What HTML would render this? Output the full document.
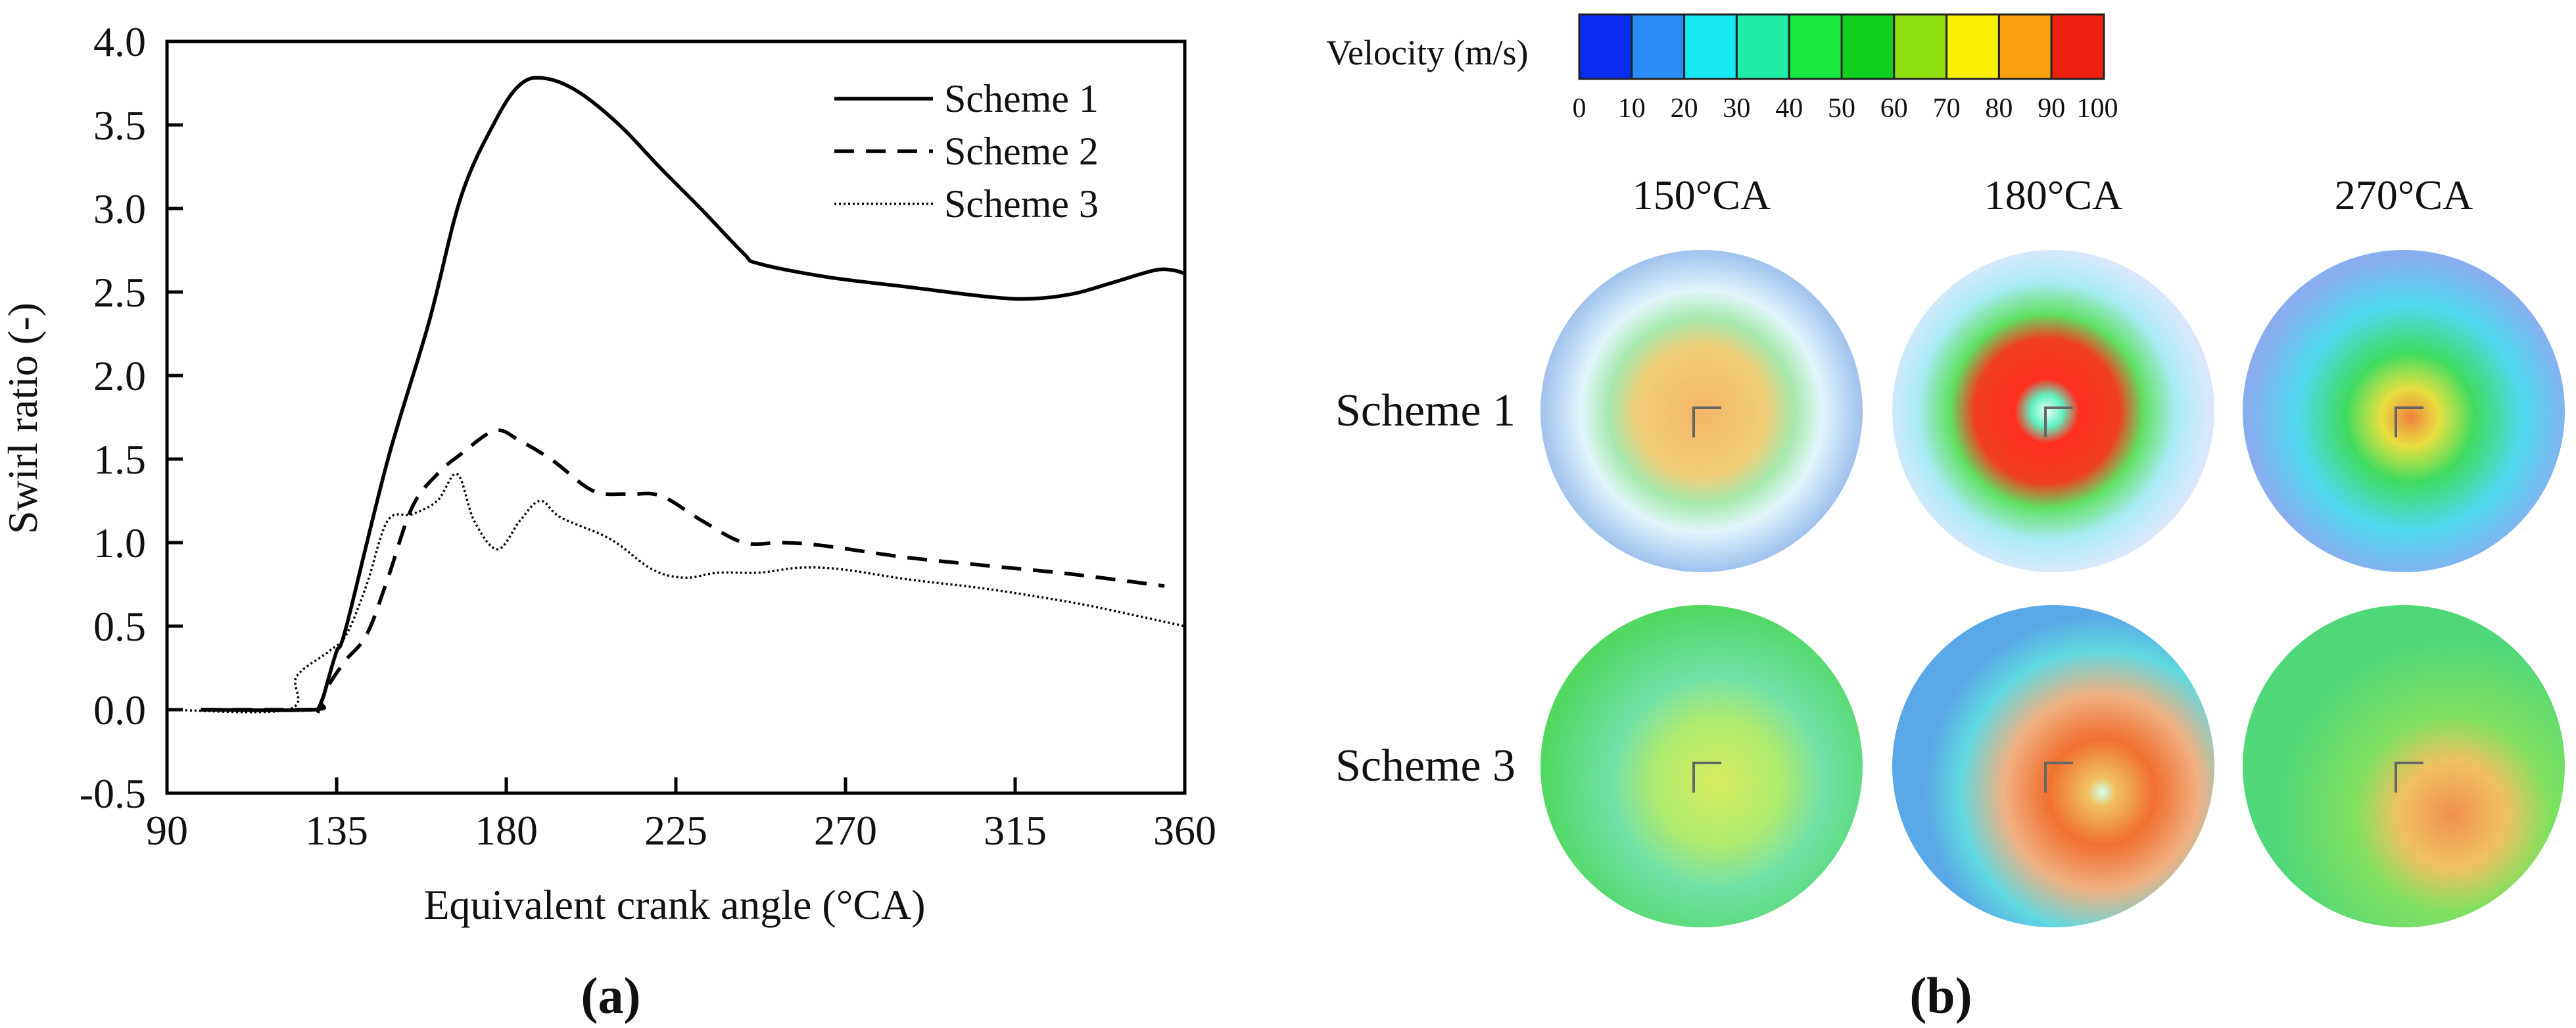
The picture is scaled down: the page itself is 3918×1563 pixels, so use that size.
<!DOCTYPE html>
<html><head><meta charset="utf-8"><style>
html,body{margin:0;padding:0;background:#fff;}
svg{display:block;}
text{font-family:"Liberation Serif",serif;fill:#111;}
</style></head><body>
<svg id="fig" width="3918" height="1563" viewBox="0 0 3918 1563" xmlns="http://www.w3.org/2000/svg">
<defs>
<radialGradient id="g1" cx="50%" cy="50%" r="50%"><stop offset="0" stop-color="#f4b468"/><stop offset="0.4" stop-color="#f2cf78"/><stop offset="0.58" stop-color="#a6eab0"/><stop offset="0.75" stop-color="#e2f4fa"/><stop offset="1" stop-color="#9fc2ee"/></radialGradient>
<radialGradient id="g2" cx="48%" cy="50%" r="50%"><stop offset="0" stop-color="#e8fff8"/><stop offset="0.1" stop-color="#5ff0c0"/><stop offset="0.2" stop-color="#ff3020"/><stop offset="0.45" stop-color="#f04020"/><stop offset="0.6" stop-color="#60e060"/><stop offset="0.8" stop-color="#a8ecf4"/><stop offset="1" stop-color="#d8e8fa"/></radialGradient>
<radialGradient id="g3" cx="52%" cy="52%" r="50%"><stop offset="0" stop-color="#f08040"/><stop offset="0.18" stop-color="#e8e040"/><stop offset="0.4" stop-color="#40dc60"/><stop offset="0.7" stop-color="#50d8f0"/><stop offset="1" stop-color="#88aef0"/></radialGradient>
<radialGradient id="g4" cx="55%" cy="55%" r="55%"><stop offset="0" stop-color="#d8ec60"/><stop offset="0.35" stop-color="#b0ec70"/><stop offset="0.6" stop-color="#70e0a8"/><stop offset="1" stop-color="#50d860"/></radialGradient>
<radialGradient id="g5" cx="65%" cy="58%" r="55%"><stop offset="0" stop-color="#d0fff0"/><stop offset="0.08" stop-color="#f0c060"/><stop offset="0.3" stop-color="#f07030"/><stop offset="0.55" stop-color="#f0b080"/><stop offset="0.8" stop-color="#60d8e0"/><stop offset="1" stop-color="#5aa8e8"/></radialGradient>
<radialGradient id="g6" cx="65%" cy="65%" r="55%"><stop offset="0" stop-color="#f09050"/><stop offset="0.3" stop-color="#f0c060"/><stop offset="0.55" stop-color="#80e060"/><stop offset="1" stop-color="#50d878"/></radialGradient>
</defs>
<g id="chart"></g>
<g id="right"></g>
</svg>
<script>
const NS="http://www.w3.org/2000/svg";
const xTicks=[90,135,180,225,270,315,360];
const yTicks=[-0.5,0.0,0.5,1.0,1.5,2.0,2.5,3.0,3.5,4.0];
const s1x=[99,128.8,131,133,135,137.6,148.5,159.5,168,177,183.6,190,199,210,221,232,243,247,265,286.6,308.5,319.5,330.5,341.4,352,357,360];
const s1y=[0,0,0.05,0.2,0.35,0.5,1.49,2.32,3.07,3.52,3.74,3.78,3.70,3.5,3.24,2.99,2.73,2.67,2.59,2.53,2.47,2.46,2.49,2.56,2.63,2.63,2.61];
const s2x=[99,129,130,133,137.6,143,148.5,155,161.7,168,177,183.6,192.4,203,212,221,232,243,253.7,264.7,286.6,308.5,330.5,354.6];
const s2y=[0,0,0.0,0.15,0.3,0.45,0.78,1.21,1.41,1.53,1.67,1.61,1.49,1.31,1.29,1.28,1.13,1.0,1.0,0.98,0.91,0.86,0.81,0.74];
const s3x=[90,122,124.4,133,137.6,143,148.5,155,161.7,167,171.5,177.7,183.6,189,194.5,207.7,218.7,227.4,236.2,247,258,269,286.6,308.5,330.5,343.6,360];
const s3y=[0,0,0.2,0.35,0.45,0.75,1.13,1.17,1.25,1.41,1.13,0.96,1.13,1.25,1.15,1.02,0.84,0.79,0.82,0.82,0.85,0.84,0.78,0.72,0.64,0.58,0.5];
const cbTicks=[0,10,20,30,40,50,60,70,80,90,100];
const cbColors=["#0a2cf0","#2a8cf4","#18e8f4","#20eca8","#18e840","#10d020","#90e010","#f8f000","#f8a010","#f02010"];

const L=254,R=1802,T=63,B=1206;
const X=v=>L+(v-90)/270*(R-L);
const Y=v=>B-(v+0.5)/4.5*(B-T);
function el(tag,attrs,parent,txt){const e=document.createElementNS(NS,tag);for(const k in attrs)e.setAttribute(k,attrs[k]);if(txt!==undefined)e.textContent=txt;parent.appendChild(e);return e;}
const C=document.getElementById('chart');
function smooth(xs,ys){const p=xs.map((x,i)=>[X(x),Y(ys[i])]);let d=`M${p[0][0]},${p[0][1]}`;for(let i=0;i<p.length-1;i++){const p0=p[Math.max(0,i-1)],p1=p[i],p2=p[i+1],p3=p[Math.min(p.length-1,i+2)];const t=0.17;d+=` C${p1[0]+(p2[0]-p0[0])*t},${p1[1]+(p2[1]-p0[1])*t} ${p2[0]-(p3[0]-p1[0])*t},${p2[1]-(p3[1]-p1[1])*t} ${p2[0]},${p2[1]}`;}return d;}
let e;
e=el('rect',{x:L,y:T,width:R-L,height:B-T,fill:'none',stroke:'#000','stroke-width':5},C);


xTicks.forEach(v=>{
 if(v>90&&v<360){const t=el('line',{x1:X(v),x2:X(v),y1:B,y2:B-24,stroke:'#000','stroke-width':5},C);
 
 }
 const l=el('text',{x:X(v),y:1284,'font-size':64,'text-anchor':'middle'},C,String(v));
 
 
});
yTicks.forEach(v=>{
 if(v>-0.5&&v<4){const t=el('line',{x1:L,x2:L+24,y1:Y(v),y2:Y(v),stroke:'#000','stroke-width':5},C);
 
 }
 const l=el('text',{x:222,y:Y(v)+22,'font-size':64,'text-anchor':'end'},C,v.toFixed(1));
 
 
});
e=el('text',{x:1026,y:1397,'font-size':64,'text-anchor':'middle'},C,'Equivalent crank angle (°CA)');


e=el('text',{x:0,y:0,'font-size':64,'text-anchor':'middle',transform:'translate(56,636) rotate(-90)'},C,'Swirl ratio (-)');


const series=[[s1x,s1y,'',5.5,'scheme-1-line'],[s2x,s2y,'30 18',5.5,'scheme-2-line'],[s3x,s3y,'3 4',3.5,'scheme-3-line']];
series.forEach(s=>{const p=el('path',{d:smooth(s[0],s[1]),fill:'none',stroke:'#000','stroke-width':s[3],'stroke-dasharray':s[2]},C);
 
 });
['Scheme 1','Scheme 2','Scheme 3'].forEach((n,i)=>{const y=150+80*i;
 const g=el('g',{},C);
 
 
 el('line',{x1:1269,x2:1419,y1:y,y2:y,stroke:'#000','stroke-width':series[i][3],'stroke-dasharray':series[i][2]},g);
 el('text',{x:1436,y:y+20,'font-size':60},g,n);});
e=el('text',{x:929,y:1540,'font-size':78,'font-weight':'bold','text-anchor':'middle'},C,'(a)');



const P=document.getElementById('right');
e=el('text',{x:2017,y:98,'font-size':54},P,'Velocity (m/s)');


const cbL=2402,cbR=3200,segW=(cbR-cbL)/cbColors.length;
cbColors.forEach((c,i)=>{const r=el('rect',{x:cbL+i*segW,y:22,width:segW,height:98,fill:c,stroke:'#222','stroke-width':3},P);
 
 });
cbTicks.forEach((v,i)=>{const t=el('text',{x:cbL+i*segW+(i==10?-10:0),y:178,'font-size':42,'font-family':'Liberation Sans','text-anchor':'middle'},P,String(v));
 
 });
const cols=[2588,3123,3656],rows=[625,1165],heads=['150°CA','180°CA','270°CA'],rl=['Scheme 1','Scheme 3'];
heads.forEach((h,i)=>{const t=el('text',{x:cols[i],y:318,'font-size':64,'text-anchor':'middle'},P,h);
 
 });
rl.forEach((h,i)=>{const t=el('text',{x:2168,y:rows[i]+22,'font-size':70,'text-anchor':'middle'},P,h);
 
 });
let k=1;
rows.forEach(cy=>cols.forEach(cx=>{const c=el('circle',{cx:cx,cy:cy,r:245,fill:`url(#g${k})`},P);
 
 
 el('path',{d:`M${cx-12},${cy+40} V${cy-5} H${cx+30}`,fill:'none',stroke:'#666','stroke-width':4},P);
 k++;}));
e=el('text',{x:2952,y:1540,'font-size':78,'font-weight':'bold','text-anchor':'middle'},P,'(b)');


</script>
</body></html>
